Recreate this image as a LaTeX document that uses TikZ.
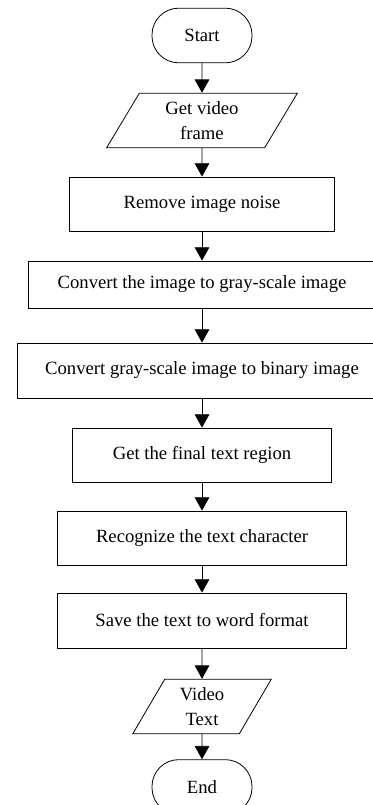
\documentclass[tikz,border=0pt]{standalone}
\usepackage{fontspec}
\setmainfont{Liberation Serif}
\usetikzlibrary{shapes.geometric,arrows.meta}

\begin{document}
\begin{tikzpicture}[x=0.75pt, y=-0.75pt, >={Triangle[width=11pt,length=10pt]},
  every node/.style={font=\fontsize{14}{18.3}\selectfont, align=center, inner sep=0pt},
  stepbox/.style={draw, line width=0.6pt, minimum height=#1*0.75pt},
  termbox/.style={draw, line width=0.6pt, rounded corners=20pt, minimum width=75pt, minimum height=41pt},
  iobox/.style={draw, line width=0.6pt, trapezium, trapezium left angle=63, trapezium right angle=117,
    trapezium stretches=true, minimum height=41pt},
  flow/.style={->, line width=0.6pt}]
\path[use as bounding box, clip] (0,0) rectangle (373,805);

\def\cx{202}

\node[termbox] (start) at (\cx,35.5) {Start};
\node[iobox, minimum width=144pt] (getframe) at (\cx,120.5) {Get video\\frame};
\node[stepbox=54, minimum width=199pt] (denoise) at (\cx,204) {Remove image noise};
\node[stepbox=47, minimum width=261pt] (togray) at (\cx,284.5) {Convert the image to gray-scale image};
\node[stepbox=55, minimum width=277pt] (tobinary) at (\cx,370.5) {Convert gray-scale image to binary image};
\node[stepbox=54, minimum width=194pt] (region) at (\cx,455) {Get the final text region};
\node[stepbox=54, minimum width=217pt] (recog) at (\cx,538) {Recognize the text character};
\node[stepbox=55, minimum width=217pt] (save) at (\cx,620.5) {Save the text to word format};
\node[iobox, minimum width=104pt] (vtext) at (\cx,706.5) {Video\\Text};
\node[termbox] (stop) at (\cx,787) {End};

% connectors
\draw[flow] (start) -- (getframe);
\draw[flow] (getframe) -- (denoise);
\draw[flow] (denoise) -- (togray);
\draw[flow] (togray) -- (tobinary);
\draw[flow] (tobinary) -- (region);
\draw[flow] (region) -- (recog);
\draw[flow] (recog) -- (save);
\draw[flow] (save) -- (vtext);
\draw[flow] (vtext) -- (stop);
\end{tikzpicture}
\end{document}
